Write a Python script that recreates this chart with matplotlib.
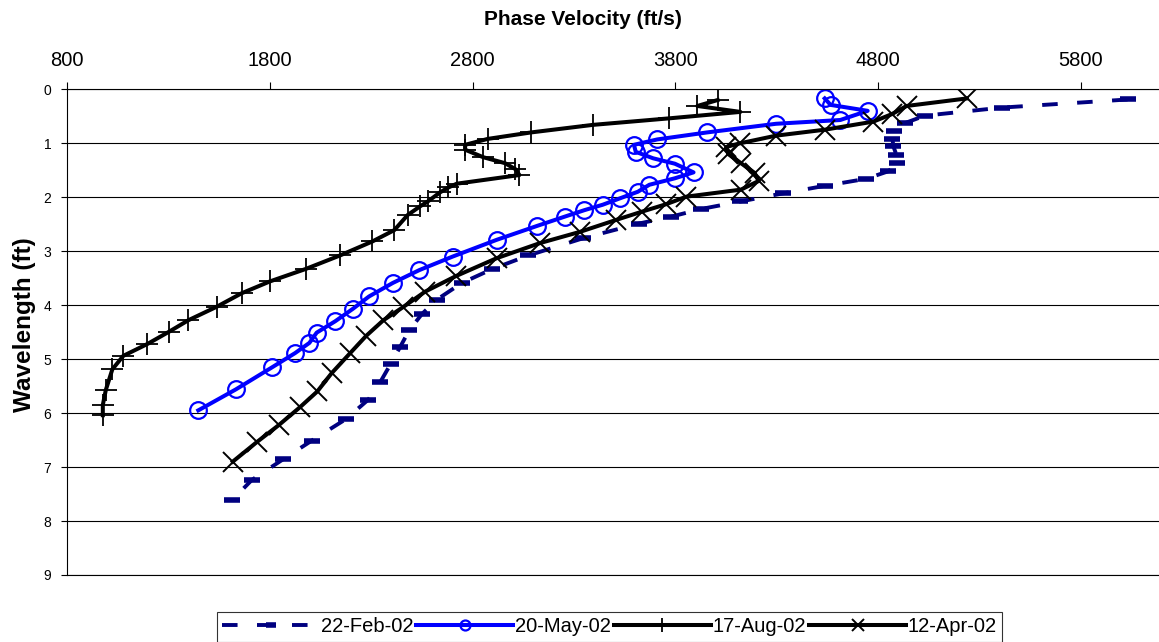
import matplotlib
matplotlib.use("Agg")
import matplotlib.pyplot as plt

plt.rcParams['font.family'] = ['Liberation Sans', 'DejaVu Sans']

# phase velocity (ft/s) vs wavelength (ft)
feb_wl = [0.19, 0.34, 0.49, 0.63, 0.78, 0.92, 1.06, 1.22, 1.37, 1.52, 1.66, 1.79,
          1.93, 2.08, 2.22, 2.36, 2.49, 2.76, 3.08, 3.33, 3.59, 3.90, 4.17, 4.47,
          4.78, 5.09, 5.43, 5.75, 6.11, 6.51, 6.86, 7.24, 7.62]
feb_vel = [6030, 5410, 5030, 4930, 4880, 4870, 4875, 4890, 4895, 4850, 4740, 4536,
           4330, 4120, 3925, 3780, 3618, 3345, 3074, 2897, 2746, 2622, 2548, 2486,
           2441, 2395, 2343, 2285, 2175, 2006, 1863, 1710, 1611]

may_wl = [0.17, 0.29, 0.40, 0.57, 0.64, 0.80, 0.93, 1.03, 1.16, 1.28, 1.38, 1.54,
          1.65, 1.77, 1.90, 2.02, 2.14, 2.24, 2.36, 2.53, 2.79, 3.10, 3.35, 3.59,
          3.84, 4.07, 4.30, 4.51, 4.70, 4.89, 5.15, 5.56, 5.95]
may_vel = [4536, 4565, 4748, 4613, 4296, 3956, 3710, 3595, 3604, 3690, 3797, 3889,
           3797, 3671, 3614, 3527, 3441, 3351, 3254, 3119, 2918, 2701, 2537, 2405,
           2288, 2208, 2121, 2030, 1994, 1923, 1811, 1632, 1446]

aug_wl = [0.20, 0.31, 0.42, 0.54, 0.66, 0.80, 0.92, 1.03, 1.12, 1.26, 1.37, 1.48,
          1.59, 1.75, 1.82, 1.91, 2.08, 2.17, 2.33, 2.61, 2.82, 3.08, 3.33, 3.56,
          3.78, 4.03, 4.28, 4.49, 4.72, 4.94, 5.19, 5.57, 5.85, 6.04]
aug_vel = [4008, 3908, 4120, 3767, 3393, 3088, 2874, 2762, 2762, 2852, 2959, 3010,
           3030, 2721, 2680, 2639, 2578, 2540, 2479, 2413, 2305, 2145, 1976, 1800,
           1660, 1537, 1397, 1303, 1195, 1076, 1022, 990, 975, 975]

apr_wl = [0.17, 0.31, 0.46, 0.60, 0.75, 0.86, 1.00, 1.07, 1.20, 1.37, 1.55, 1.70,
          1.86, 1.99, 2.13, 2.27, 2.42, 2.64, 2.85, 3.13, 3.46, 3.75, 4.04, 4.28,
          4.57, 4.89, 5.26, 5.60, 5.89, 6.22, 6.54, 6.90]
apr_vel = [5238, 4940, 4868, 4776, 4536, 4296, 4120, 4050, 4060, 4123, 4190, 4210,
           4123, 3854, 3754, 3633, 3508, 3331, 3132, 2918, 2718, 2565, 2455, 2359,
           2274, 2195, 2104, 2033, 1948, 1844, 1734, 1616]

x_ticks = [800, 1800, 2800, 3800, 4800, 5800]
y_ticks = list(range(10))

fig = plt.figure(figsize=(11.59, 6.42), dpi=100)
ax = fig.add_axes([0.0581, 0.1044, 0.962, 0.7566])

ax.plot(feb_vel, feb_wl, color='#000080', lw=2.8, dashes=(4, 5),
        marker='_', ms=12, mew=4, label='22-Feb-02')
ax.plot(may_vel, may_wl, color='#0000FF', lw=2.9,
        marker='o', ms=12, mfc='none', mew=1.6, label='20-May-02')
ax.plot(aug_vel, aug_wl, color='black', lw=2.9,
        marker='+', ms=16, mew=1.3, label='17-Aug-02')
ax.plot(apr_vel, apr_wl, color='black', lw=2.9,
        marker='x', ms=14.5, mew=1.4, label='12-Apr-02')

ax.set_xlim(800, 6300)
ax.set_ylim(9, 0)
ax.set_xticks(x_ticks)
ax.set_yticks(y_ticks)
ax.xaxis.tick_top()
ax.tick_params(axis='x', direction='out', length=5, width=0.8, pad=9, labelsize=14.5)
ax.tick_params(axis='y', direction='out', length=4.5, width=0.8, pad=7, labelsize=10)
ax.yaxis.grid(True, color='black', lw=0.8)
ax.set_axisbelow(True)
for side in ['top', 'left', 'bottom']:
    ax.spines[side].set_linewidth(0.8)
ax.spines['right'].set_visible(False)

fig.text(0.503, 0.970, 'Phase Velocity (ft/s)', ha='center', va='center',
         fontsize=15, fontweight='bold')
fig.text(0.021, 0.495, 'Wavelength (ft)', ha='center', va='center',
         rotation=90, fontsize=17.5, fontweight='bold')

leg = ax.legend(loc='center', bbox_to_anchor=(0.526, 0.0234), bbox_transform=fig.transFigure,
                ncol=4, fontsize=14.5, frameon=True, fancybox=False, edgecolor='black',
                handlelength=4.8, handletextpad=0.1, columnspacing=0.15, borderpad=0.25,
                borderaxespad=0, markerscale=0.6)
leg.get_frame().set_linewidth(0.8)

fig.savefig('out.png', dpi=100)
